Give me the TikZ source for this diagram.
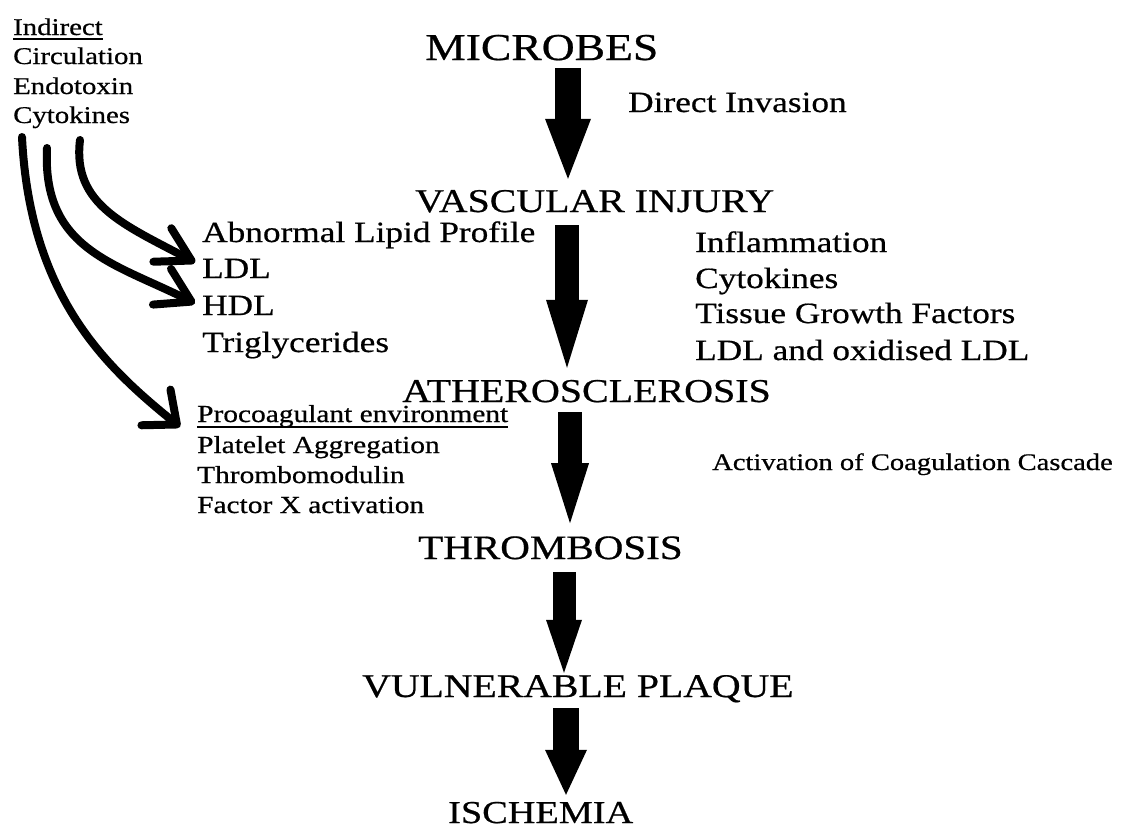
\documentclass[tikz,border=0pt]{standalone}
\usepackage{fontspec}
\setmainfont{Liberation Serif}[FakeStretch=1.2,FakeBold=0.6]
\usetikzlibrary{arrows.meta}
\newcommand\setfs[1]{\fontsize{#1}{#1}\selectfont}
\begin{document}
\begin{tikzpicture}[x=1pt,y=-1pt,
  txt/.style={inner sep=0pt, anchor=base west},
  head/.style={txt, text depth=0pt},
  lista/.style={txt, font=\setfs{29.4}},
  listb/.style={txt, font=\setfs{24.5}},
  listc/.style={txt, font=\setfs{24}},
  big/.style n args={3}{line width=#1pt, -{Triangle[length=#2pt,width=#3pt,line width=0pt]}},
  curv/.style={line width=8pt, line cap=round},
  uline/.style={line width=1.6pt}]
\useasboundingbox (0,0) rectangle (1121,828);
% indirect list
\node[listc] (indirect) at (13,35) {Indirect};
\node[listc] (circ) at (13,64) {Circulation};
\node[listc] (endo) at (13,94) {Endotoxin};
\node[listc] (cyto1) at (13,123) {Cytokines};
\draw[uline] ([yshift=-4pt]indirect.base west) -- ([yshift=-4pt]indirect.base east);
% headings
\node[head, text height=25pt, font=\setfs{38}] (microbes) at (425,60) {MICROBES};
\node[head, text height=22pt, font=\setfs{33.2}] (vascular) at (415,212) {VASCULAR INJURY};
\node[head, text height=22pt, font=\setfs{33.3}] (athero) at (402,402) {ATHEROSCLEROSIS};
\node[head, text height=22.6pt, font=\setfs{34.2}] (thromb) at (418,559) {THROMBOSIS};
\node[head, text height=22pt, font=\setfs{33.1}] (vuln) at (362,697) {VULNERABLE PLAQUE};
\node[head, text height=21pt, font=\setfs{31.9}] (isch) at (448,823) {ISCHEMIA};
% side texts
\node[lista] (direct) at (628,112) {Direct Invasion};
\node[lista] (abn) at (202,242) {Abnormal Lipid Profile};
\node[lista] (ldl) at (202,278) {LDL};
\node[lista] (hdl) at (202,315) {HDL};
\node[lista] (trig) at (202,352) {Triglycerides};
\node[lista] (infl) at (695,252) {Inflammation};
\node[lista] (cyto2) at (695,288) {Cytokines};
\node[lista] (tissue) at (695,323) {Tissue Growth Factors};
\node[lista] (oxldl) at (695,360) {LDL and oxidised LDL};
\node[listb] (procoag) at (197,422) {Procoagulant environment};
\node[listb] (platelet) at (197,453) {Platelet Aggregation};
\node[listb] (thrombo) at (197,483) {Thrombomodulin};
\node[listb] (factorx) at (197,513) {Factor X activation};
\draw[uline] ([yshift=-5pt]procoag.base west) -- ([yshift=-5pt]procoag.base east);
\node[txt, font=\setfs{23.8}] (activ) at (712,470) {Activation of Coagulation Cascade};
% main arrows
\coordinate (ax1) at (568,0);
\coordinate (ax2) at (567,0);
\coordinate (ax3) at (570,0);
\coordinate (ax4) at (564,0);
\coordinate (ax5) at (566,0);
\draw[big={26}{60}{46}, shorten <=8pt, shorten >=11pt] (microbes.south -| ax1) -- (vascular.north -| ax1);
\draw[big={24}{68}{42}, shorten <=13pt, shorten >=12pt] (vascular.south -| ax2) -- (athero.north -| ax2);
\draw[big={24}{60}{38}, shorten <=10pt, shorten >=13pt] (athero.south -| ax3) -- (thromb.north -| ax3);
\draw[big={23}{53}{36}, shorten <=13pt, shorten >=2pt] (thromb.south -| ax4) -- (vuln.north -| ax4);
\draw[big={26}{45}{42}, shorten <=11pt, shorten >=7pt] (vuln.south -| ax5) -- (isch.north -| ax5);
% curved arrows
\coordinate (sA) at (80,140);
\coordinate (sB) at (47,148);
\coordinate (sC) at (22,137);
\draw[curv, -{Straight Barb[round,length=33pt,width=38pt]}] (sA) .. controls (72,205) and (125,225) .. ([shift={(-7pt,6pt)}]ldl.west);
\draw[curv, -{Straight Barb[round,length=33pt,width=40pt]}] (sB) .. controls (42,250) and (115,263) .. ([shift={(-7pt,2pt)}]hdl.west);
\draw[curv, -{Straight Barb[round,length=27pt,width=46pt]}] (sC) .. controls (30,300) and (110,370) .. ([shift={(-17pt,-5pt)}]procoag.base west);
\end{tikzpicture}
\end{document}
